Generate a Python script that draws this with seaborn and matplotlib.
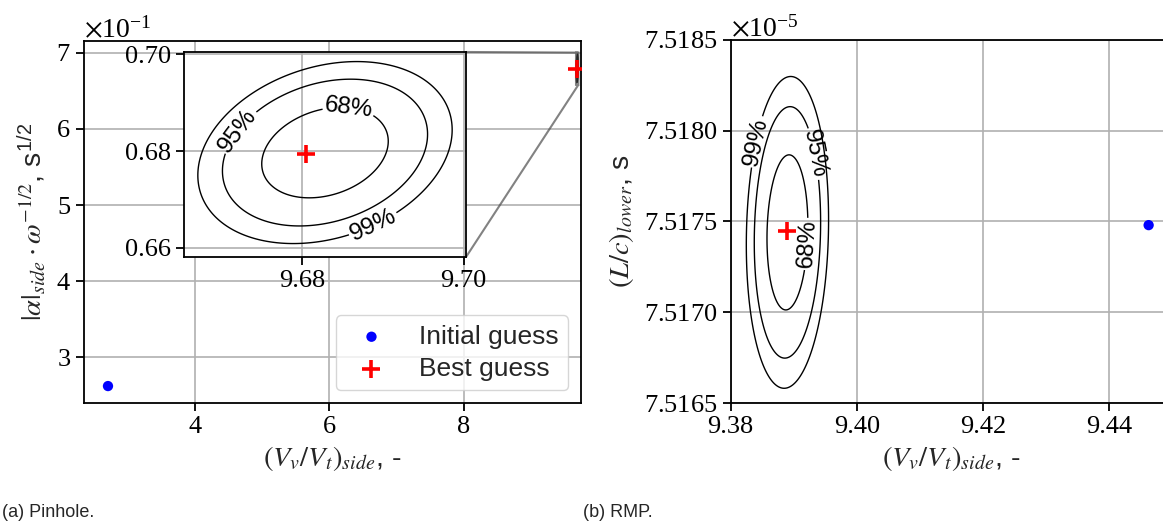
import numpy as np
import matplotlib
matplotlib.use("Agg")
import matplotlib.pyplot as plt
import seaborn as sns
from matplotlib.ticker import ScalarFormatter, FormatStrFormatter

# ---------------- data ----------------
conf_labels = ["68%", "95%", "99%"]
chi2_levels = [2.279, 5.991, 9.210]          # 2-dof chi^2 for 68/95/99 %

# (a) Pinhole
ph_init_x = [2.708]
ph_init_y = [0.2618]
ph_best_x = [9.6805]
ph_best_y = [0.6795]
ph_center = [9.6828, 0.6797]
ph_sigma = [0.0052, 0.0062]
ph_rho = 0.25
ph_label_pos = [(9.6857, 0.6884), (9.6717, 0.6846), (9.6886, 0.6654)]

# (b) RMP
rmp_init_x = [9.4463]
rmp_init_y = [7.51748e-5]
rmp_best_x = [9.3890]
rmp_best_y = [7.51745e-5]
rmp_center = [9.3890, 7.51744e-5]
rmp_sigma = [0.00215, 2.83e-9]
rmp_rho = 0.08
rmp_label_pos = [(9.3921, 7.51738e-5), (9.3941, 7.51788e-5), (9.3838, 7.51794e-5)]

legend_labels = ["Initial guess", "Best guess"]
captions = ["(a) Pinhole.", "(b) RMP."]


def chi2_field(center, sigma, rho, xr, yr, n=400):
    xs = np.linspace(xr[0], xr[1], n)
    ys = np.linspace(yr[0], yr[1], n)
    X, Y = np.meshgrid(xs, ys)
    dx = (X - center[0]) / sigma[0]
    dy = (Y - center[1]) / sigma[1]
    Z = (dx ** 2 - 2 * rho * dx * dy + dy ** 2) / (1 - rho ** 2)
    return X, Y, Z


def draw_labelled_contours(ax, X, Y, Z, positions):
    # one contour set per level so each closed loop is cut independently
    for lev, lab, pos in zip(chi2_levels, conf_labels, positions):
        cs = ax.contour(X, Y, Z, levels=[lev], colors="black", linewidths=1.0)
        ax.clabel(cs, fmt={lev: lab}, inline=True, fontsize=17.5,
                  inline_spacing=4, manual=[pos])
        for t in cs.labelTexts:
            t.set_family(SANS)


# ---------------- style ----------------
sns.set_theme(style="ticks")
plt.rcParams.update({
    "font.family": ["Liberation Serif", "DejaVu Serif"],
    "mathtext.fontset": "stix",
    "axes.edgecolor": "black",
    "axes.linewidth": 1.3,
    "xtick.color": "black",
    "ytick.color": "black",
    "xtick.major.size": 6,
    "ytick.major.size": 6,
    "xtick.major.width": 1.3,
    "ytick.major.width": 1.3,
    "xtick.labelsize": 19,
    "ytick.labelsize": 19,
    "grid.color": "#b0b0b0",
    "grid.linewidth": 1.2,
    "axes.grid": True,
})
SANS = ["Liberation Sans", "DejaVu Sans"]
LABEL_FS = 20.5

fig = plt.figure(figsize=(11.63, 5.24), dpi=100)

# ---------------- (a) Pinhole ----------------
ax1 = fig.add_axes([0.0722, 0.2309, 0.4274, 0.6909])
X, Y, Z = chi2_field(ph_center, ph_sigma, ph_rho, (9.64, 9.73), (0.64, 0.72))
ax1.contour(X, Y, Z, levels=chi2_levels, colors="black", linewidths=1.0)
sns.scatterplot(x=ph_init_x, y=ph_init_y, ax=ax1, color="blue", s=55,
                edgecolor="none", label=legend_labels[0], zorder=5)
sns.scatterplot(x=ph_best_x, y=ph_best_y, ax=ax1, color="red", marker="+",
                s=170, linewidth=2.6, label=legend_labels[1], zorder=6)
ax1.set_xlim(2.351, 9.740)
ax1.set_ylim(0.2395, 0.7158)
ax1.set_xticks([4, 6, 8])
ax1.set_yticks([0.3, 0.4, 0.5, 0.6, 0.7])
fmt1 = ScalarFormatter(useMathText=True)
fmt1.set_powerlimits((0, 0))
ax1.yaxis.set_major_formatter(fmt1)
ax1.yaxis.get_offset_text().set_fontsize(20)
ax1.set_xlabel(r"$(V_v/V_t)_{side}$, -", fontsize=LABEL_FS, family=SANS)
ax1.set_ylabel(r"$|\alpha|_{side}\cdot\omega^{-1/2}$, s$^{\mathdefault{1/2}}$",
               fontsize=LABEL_FS, family=SANS, labelpad=6)
ax1.grid(True)
ax1.legend(loc="lower right", prop={"family": SANS, "size": 19},
           labelspacing=0.3, borderpad=0.35, handletextpad=0.8,
           framealpha=0.8, edgecolor="#cccccc")

# inset
axins = fig.add_axes([0.1582, 0.5095, 0.2425, 0.3913])
axins.set_xlim(9.6653, 9.7003)
axins.set_ylim(0.6581, 0.7005)
draw_labelled_contours(axins, X, Y, Z, ph_label_pos)
sns.scatterplot(x=ph_best_x, y=ph_best_y, ax=axins, color="red", marker="+",
                s=170, linewidth=2.6, legend=False, zorder=6)
axins.set_xlim(9.6653, 9.7003)
axins.set_ylim(0.6581, 0.7005)
axins.set_xticks([9.68, 9.70])
axins.set_yticks([0.66, 0.68, 0.70])
axins.xaxis.set_major_formatter(FormatStrFormatter("%.2f"))
axins.yaxis.set_major_formatter(FormatStrFormatter("%.2f"))
axins.grid(True)
axins.set_facecolor("white")
ax1.indicate_inset_zoom(axins, edgecolor="0.3", alpha=0.7, linewidth=1.5)

# ---------------- (b) RMP ----------------
ax2 = fig.add_axes([0.6283, 0.2309, 0.3794, 0.6928])
ax2.set_xlim(9.38, 9.45)
ax2.set_ylim(7.5165e-5, 7.5185e-5)
X2, Y2, Z2 = chi2_field(rmp_center, rmp_sigma, rmp_rho,
                        (9.37, 9.41), (7.5160e-5, 7.5190e-5))
draw_labelled_contours(ax2, X2, Y2, Z2, rmp_label_pos)
sns.scatterplot(x=rmp_init_x, y=rmp_init_y, ax=ax2, color="blue", s=55,
                edgecolor="none", legend=False, zorder=5)
sns.scatterplot(x=rmp_best_x, y=rmp_best_y, ax=ax2, color="red", marker="+",
                s=170, linewidth=2.6, legend=False, zorder=6)
ax2.set_xlim(9.38, 9.45)
ax2.set_ylim(7.5165e-5, 7.5185e-5)
ax2.set_xticks([9.38, 9.40, 9.42, 9.44])
ax2.set_yticks([7.5165e-5, 7.5170e-5, 7.5175e-5, 7.5180e-5, 7.5185e-5])
fmt2 = ScalarFormatter(useMathText=True, useOffset=False)
ax2.yaxis.set_major_formatter(fmt2)
ax2.xaxis.set_major_formatter(FormatStrFormatter("%.2f"))
ax2.yaxis.get_offset_text().set_fontsize(20)
ax2.set_xlabel(r"$(V_v/V_t)_{side}$, -", fontsize=LABEL_FS, family=SANS)
ax2.set_ylabel(r"$(L/c)_{lower}$, s", fontsize=LABEL_FS, family=SANS, labelpad=6)
ax2.grid(True)

# captions
fig.text(0.002, 0.021, captions[0], family=SANS, fontsize=13, va="center")
fig.text(0.5013, 0.021, captions[1], family=SANS, fontsize=13, va="center")

fig.savefig("out.png", dpi=100)
